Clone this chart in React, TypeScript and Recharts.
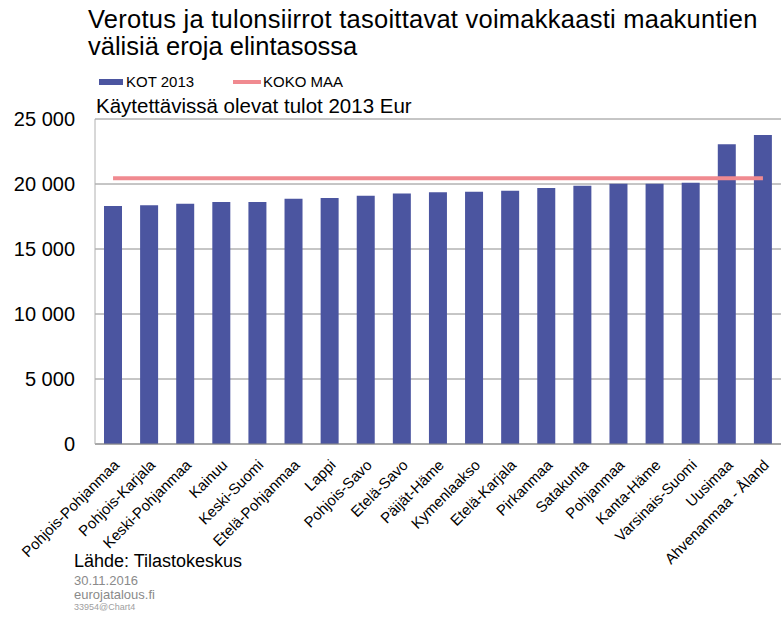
import React from 'react';
import { ComposedChart, Bar, Line, XAxis, YAxis, CartesianGrid } from 'recharts';

const regions = [
  'Pohjois-Pohjanmaa', 'Pohjois-Karjala', 'Keski-Pohjanmaa', 'Kainuu', 'Keski-Suomi',
  'Etelä-Pohjanmaa', 'Lappi', 'Pohjois-Savo', 'Etelä-Savo', 'Päijät-Häme',
  'Kymenlaakso', 'Etelä-Karjala', 'Pirkanmaa', 'Satakunta', 'Pohjanmaa',
  'Kanta-Häme', 'Varsinais-Suomi', 'Uusimaa', 'Ahvenanmaa - Åland',
];

// KOT 2013, käytettävissä olevat tulot (Eur)
const kot2013 = [
  18300, 18360, 18490, 18620, 18620,
  18870, 18920, 19100, 19260, 19360,
  19410, 19490, 19690, 19870, 20020,
  20020, 20100, 23050, 23770,
];

// KOKO MAA
const kokoMaa = [
  20440, 20440, 20440, 20440, 20440,
  20440, 20440, 20440, 20440, 20440,
  20440, 20440, 20440, 20440, 20440,
  20440, 20440, 20440, 20440,
];

const yTicks = [0, 5000, 10000, 15000, 20000, 25000];

const data = regions.map((name, i) => ({ name, kot: kot2013[i], koko: kokoMaa[i] }));

const FONT = '"Liberation Sans", Arial, sans-serif';
const BAR_COLOR = '#4b55a0';
const LINE_COLOR = '#f08a90';

const fmt = (v: number) => (v >= 1000 ? `${Math.floor(v / 1000)} ${String(v % 1000).padStart(3, '0')}` : `${v}`);

const RegionTick = (props: any) => {
  const { x, y, payload } = props;
  return (
    <g transform={`translate(${x + 7},${y + 22})`}>
      <text x={0} y={0} textAnchor="end" transform="rotate(-45)" fontSize={15} fontFamily={FONT} fill="#000">
        {payload.value}
      </text>
    </g>
  );
};

export default function App() {
  return (
    <div style={{ position: 'absolute', left: 0, top: 0, width: 781, height: 617, background: '#fff', fontFamily: FONT }}>
      <div style={{ position: 'absolute', left: 88, top: 6, fontSize: 25.5, lineHeight: '27px', color: '#000', whiteSpace: 'nowrap' }}>
        <span style={{ letterSpacing: 0.25 }}>Verotus ja tulonsiirrot tasoittavat voimakkaasti maakuntien</span>
        <br />
        välisiä eroja elintasossa
      </div>

      {/* legend */}
      <div style={{ position: 'absolute', left: 99, top: 79, width: 24, height: 6, background: BAR_COLOR }} />
      <div style={{ position: 'absolute', left: 126, top: 73, fontSize: 15, lineHeight: '17px' }}>KOT 2013</div>
      <div style={{ position: 'absolute', left: 233, top: 80, width: 28, height: 4, background: LINE_COLOR }} />
      <div style={{ position: 'absolute', left: 263, top: 73, fontSize: 15, lineHeight: '17px' }}>KOKO MAA</div>

      <div style={{ position: 'absolute', left: 96, top: 95, fontSize: 20.5, lineHeight: '22px', whiteSpace: 'nowrap' }}>
        Käytettävissä olevat tulot 2013 Eur
      </div>

      <ComposedChart width={781} height={617} data={data} margin={{ top: 119, right: 0, bottom: 0, left: 0 }}>
        <CartesianGrid vertical={false} stroke="#8c8c8c" />
        <XAxis
          dataKey="name"
          interval={0}
          height={173}
          tickLine={false}
          tickSize={0}
          tickMargin={0}
          axisLine={{ stroke: '#8c8c8c' }}
          tick={<RegionTick />}
        />
        <YAxis
          width={95}
          domain={[0, 25000]}
          ticks={yTicks}
          tickFormatter={fmt}
          tickLine={false}
          tickSize={0}
          tickMargin={20}
          axisLine={{ stroke: '#b0b0b0' }}
          tick={{ fontSize: 20, fill: '#000', fontFamily: FONT }}
        />
        <Bar dataKey="kot" fill={BAR_COLOR} barSize={18} isAnimationActive={false} />
        <Line dataKey="koko" type="linear" stroke={LINE_COLOR} strokeWidth={4} dot={false} isAnimationActive={false} />
      </ComposedChart>

      <div style={{ position: 'absolute', left: 74, top: 551, fontSize: 18, lineHeight: '20px', color: '#000' }}>Lähde: Tilastokeskus</div>
      <div style={{ position: 'absolute', left: 74, top: 573, fontSize: 13, lineHeight: '15px', color: '#8a8a8a' }}>30.11.2016</div>
      <div style={{ position: 'absolute', left: 74, top: 587, fontSize: 13, lineHeight: '15px', color: '#8a8a8a' }}>eurojatalous.fi</div>
      <div style={{ position: 'absolute', left: 74, top: 602, fontSize: 9, lineHeight: '11px', color: '#a0a0a0' }}>33954@Chart4</div>
    </div>
  );
}
